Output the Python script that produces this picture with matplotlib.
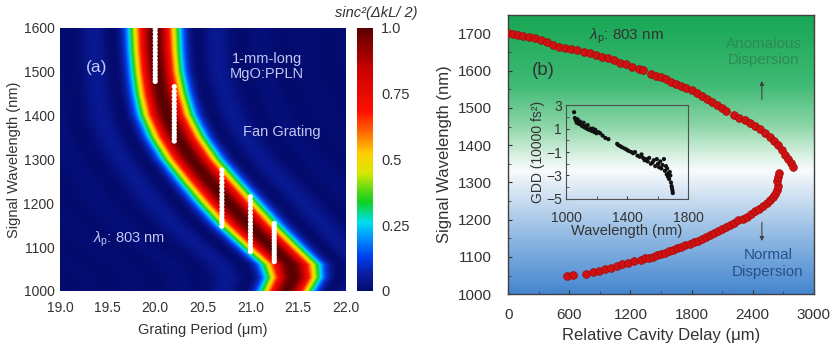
import numpy as np
import matplotlib.pyplot as plt
from matplotlib.colors import LinearSegmentedColormap

plt.rcParams['font.family'] = ['Liberation Sans', 'DejaVu Sans']
plt.rcParams['mathtext.fontset'] = 'custom'
plt.rcParams['mathtext.rm'] = 'Liberation Sans'
plt.rcParams['mathtext.it'] = 'Liberation Sans:italic'

# --- (a) phase-matching map: band centre and half-width ---
band_wl = [1000, 1030, 1060, 1100, 1150, 1200, 1250, 1300, 1350, 1400, 1450, 1500, 1550, 1600]
band_period = [21.38, 21.45, 21.42, 21.22, 20.98, 20.77, 20.57, 20.38, 20.23, 20.12, 20.06, 20.02, 20.00, 19.99]
band_halfwidth = [0.28, 0.29, 0.31, 0.32, 0.33, 0.33, 0.32, 0.31, 0.30, 0.29, 0.28, 0.27, 0.27, 0.27]

# measured signal wavelengths (white dots) for each grating period
meas_periods = [20.0, 20.2, 20.7, 21.0, 21.25]
meas_wl = [
    [1478, 1485, 1493, 1500, 1508, 1516, 1523, 1531, 1540, 1548, 1556, 1565, 1573, 1581, 1590, 1598],
    [1342, 1350, 1357, 1364, 1372, 1380, 1388, 1395, 1403, 1411, 1420, 1428, 1437, 1446, 1455, 1466],
    [1148, 1156, 1163, 1171, 1179, 1187, 1196, 1204, 1212, 1220, 1229, 1238, 1247, 1256, 1266, 1276],
    [1090, 1097, 1105, 1113, 1121, 1129, 1137, 1145, 1153, 1162, 1170, 1179, 1188, 1197, 1206, 1215],
    [1067, 1073, 1079, 1086, 1092, 1099, 1106, 1113, 1120, 1127, 1134, 1141, 1148, 1154],
]

# --- (b) signal wavelength vs relative cavity delay ---
upper_delay = [0, 50, 100, 150, 200, 260, 320, 380, 440, 500, 560, 620, 680, 740, 800, 860,
               920, 980, 1040, 1100, 1160, 1220, 1280, 1320, 1400, 1450, 1500, 1550, 1600,
               1650, 1700, 1750, 1800, 1850, 1900, 1950, 2000, 2050, 2100, 2140, 2220, 2270,
               2320, 2370, 2420, 2470, 2520, 2570, 2610, 2650, 2690, 2720, 2750, 2780, 2800]
upper_wl = [1700, 1698, 1696, 1694, 1691, 1687, 1682, 1677, 1670, 1665, 1661, 1658, 1655, 1651,
            1647, 1643, 1638, 1633, 1628, 1622, 1617, 1611, 1605, 1601, 1592, 1587, 1582, 1577,
            1571, 1565, 1559, 1553, 1547, 1540, 1532, 1524, 1516, 1508, 1499, 1493, 1481, 1474,
            1467, 1460, 1452, 1444, 1434, 1423, 1412, 1400, 1386, 1375, 1363, 1351, 1342]
lower_delay = [575, 640, 760, 830, 890, 950, 1010, 1070, 1120, 1180, 1240, 1300, 1340, 1380,
               1420, 1460, 1500, 1540, 1580, 1620, 1660, 1700, 1740, 1780, 1820, 1860, 1900,
               1940, 1980, 2020, 2060, 2100, 2140, 2180, 2220, 2260, 2300, 2340, 2380, 2420,
               2460, 2500, 2540, 2570, 2600, 2620, 2635, 2648, 2640, 2648, 2660]
lower_wl = [1050, 1051, 1055, 1060, 1063, 1067, 1071, 1076, 1080, 1085, 1089, 1093, 1096, 1098,
            1101, 1105, 1108, 1111, 1115, 1119, 1123, 1127, 1131, 1135, 1139, 1144, 1149,
            1154, 1159, 1165, 1170, 1175, 1181, 1187, 1192, 1198, 1203, 1208, 1215, 1222,
            1229, 1236, 1244, 1252, 1262, 1270, 1279, 1290, 1305, 1315, 1325]

# inset: GDD vs wavelength
gdd_wl = [1053, 1058, 1064, 1070, 1075, 1085, 1092, 1100, 1107, 1115, 1122, 1128, 1135, 1142,
          1150, 1160, 1168, 1176, 1185, 1192, 1200, 1212, 1224, 1240, 1258, 1278, 1335, 1342,
          1355, 1368, 1385, 1398, 1410, 1428, 1440, 1452, 1468, 1482, 1495, 1505, 1515, 1524,
          1535, 1545, 1556, 1567, 1575, 1585, 1595, 1603, 1610, 1618, 1625, 1632, 1642, 1648,
          1655, 1660, 1663, 1668, 1672, 1676, 1680, 1684, 1688, 1692, 1695, 1698, 1700]
gdd = [2.4, 1.9, 1.7, 1.5, 1.8, 1.4, 1.6, 1.3, 1.2, 1.5, 1.1, 1.2, 1.0, 1.3, 0.9, 1.0, 0.8,
       1.0, 0.7, 0.9, 0.6, 0.7, 0.6, 0.4, 0.2, 0.1, -0.3, -0.4, -0.5, -0.6, -0.7, -0.8, -0.9,
       -1.0, -1.1, -1.0, -1.3, -1.4, -1.2, -1.5, -1.7, -1.6, -1.8, -1.5, -2.0, -1.9, -1.7,
       -2.2, -1.6, -2.0, -2.3, -1.8, -2.4, -2.1, -1.6, -2.6, -2.2, -2.9, -2.4, -3.1, -2.8,
       -3.3, -2.7, -3.0, -3.6, -3.9, -4.1, -4.3, -4.5]

text_color = '#333333'
fig = plt.figure(figsize=(8.33, 3.54), dpi=100)

# ---------------- panel (a) ----------------
ax1 = fig.add_axes([0.072, 0.178, 0.343, 0.743])
cax = fig.add_axes([0.4286, 0.178, 0.0192, 0.743])

cmap_a = LinearSegmentedColormap.from_list('pm', [
    (0.0, '#040b6e'), (0.06, '#0a1d9c'), (0.13, '#0040f0'), (0.2, '#0090ff'),
    (0.26, '#00e0f0'), (0.34, '#10d020'), (0.45, '#d8e800'), (0.52, '#ffd000'),
    (0.6, '#ff7000'), (0.68, '#ff1000'), (0.85, '#c80000'), (1.0, '#5a0000')])

periods = np.linspace(19.0, 22.0, 600)
wls = np.linspace(1000, 1600, 400)
P, W = np.meshgrid(periods, wls)
centre = np.interp(W, band_wl, band_period)
halfw = np.interp(W, band_wl, band_halfwidth)
field = np.sinc(0.6 * (P - centre) / halfw) ** 2

im = ax1.imshow(field, extent=[19.0, 22.0, 1000, 1600], origin='lower', aspect='auto',
                cmap=cmap_a, vmin=0, vmax=1, interpolation='bilinear')

for p, wl in zip(meas_periods, meas_wl):
    ax1.scatter([p] * len(wl), wl, s=14, color='white', edgecolors='none', zorder=3)

ax1.set_xlim(19.0, 22.0)
ax1.set_ylim(1000, 1600)
ax1.set_xticks(np.arange(19.0, 22.01, 0.5))
ax1.set_xticklabels([f'{v:.1f}' for v in np.arange(19.0, 22.01, 0.5)])
ax1.set_yticks(range(1000, 1601, 100))
ax1.tick_params(length=0, labelsize=10, colors=text_color)
ax1.tick_params(axis='x', pad=7)
ax1.tick_params(axis='y', pad=4)
for s in ax1.spines.values():
    s.set_visible(False)
ax1.set_xlabel('Grating Period (\u03bcm)', fontsize=10.5, color=text_color, labelpad=6)
ax1.set_ylabel('Signal Wavelength (nm)', fontsize=10.5, color=text_color, labelpad=2)

lab = '#c3c8f2'
ax1.text(19.38, 1510, '(a)', color=lab, fontsize=12.5, ha='center', va='center')
ax1.text(21.17, 1512, '1-mm-long\nMgO:PPLN', color=lab, fontsize=10.5, ha='center',
         va='center', linespacing=1.15)
ax1.text(21.33, 1362, 'Fan Grating', color=lab, fontsize=10.5, ha='center', va='center')
ax1.text(19.35, 1118, r'$\lambda_\mathregular{p}$: 803 nm', color=lab, fontsize=10.5,
         ha='left', va='center')

cb = fig.colorbar(im, cax=cax)
cb.set_ticks([0, 0.25, 0.5, 0.75, 1.0])
cb.set_ticklabels(['0', '0.25', '0.5', '0.75', '1.0'])
cb.ax.tick_params(length=0, labelsize=10.5, colors=text_color, pad=6)
cb.outline.set_visible(False)
fig.text(0.452, 0.962, 'sinc\u00b2(\u0394kL/ 2)', fontsize=10.5, style='italic',
         color=text_color, ha='center', va='center')

# ---------------- panel (b) ----------------
ax2 = fig.add_axes([0.610, 0.169, 0.367, 0.789])
cmap_bg = LinearSegmentedColormap.from_list('bg', [
    (0.0, '#16a653'), (0.25, '#3fba74'), (0.4, '#8cd6a8'), (0.5, '#d6f0e0'),
    (0.56, '#f8fbfc'), (0.64, '#d4e4f3'), (0.8, '#8fb8e3'), (1.0, '#4586cf')])
grad = np.linspace(0, 1, 256).reshape(-1, 1)
ax2.imshow(grad, extent=[0, 3000, 1000, 1750], origin='upper', aspect='auto',
           cmap=cmap_bg, zorder=0)

ax2.scatter(upper_delay, upper_wl, s=32, color='#cc1212', edgecolors='#a00000',
            linewidths=0.4, zorder=3)
ax2.scatter(lower_delay, lower_wl, s=32, color='#cc1212', edgecolors='#a00000',
            linewidths=0.4, zorder=3)

ax2.set_xlim(0, 3000)
ax2.set_ylim(1000, 1750)
ax2.set_xticks(range(0, 3001, 600))
ax2.set_xticks(range(0, 3001, 300), minor=True)
ax2.set_yticks(range(1000, 1701, 100))
ax2.set_yticks(range(1000, 1751, 50), minor=True)
ax2.tick_params(which='both', direction='in', color='#404040', top=False, right=False)
ax2.tick_params(which='major', length=3, labelsize=11, colors=text_color)
ax2.tick_params(axis='x', which='major', pad=10)
ax2.tick_params(axis='y', which='major', pad=12)
ax2.tick_params(which='minor', length=2)
for s in ax2.spines.values():
    s.set_color('#404040')
    s.set_linewidth(1.0)
ax2.set_xlabel('Relative Cavity Delay (\u03bcm)', fontsize=12, color=text_color, labelpad=4)
ax2.set_ylabel('Signal Wavelength (nm)', fontsize=12, color=text_color, labelpad=4)

ax2.text(790, 1691, r'$\lambda_\mathregular{p}$: 803 nm', fontsize=11, color=text_color,
         ha='left', va='center')
ax2.text(343, 1600, '(b)', fontsize=13.5, color=text_color, ha='center', va='center')
ax2.text(2510, 1650, 'Anomalous\nDispersion', fontsize=11, color='#2f8a55', ha='center',
         va='center', linespacing=1.25)
ax2.annotate('', xy=(2490, 1580), xytext=(2490, 1515),
             arrowprops=dict(arrowstyle='-|>', color='#404040', lw=0.8, mutation_scale=6))
ax2.text(2550, 1082, 'Normal\nDispersion', fontsize=11, color='#27518c', ha='center',
         va='center', linespacing=1.25)
ax2.annotate('', xy=(2490, 1135), xytext=(2490, 1200),
             arrowprops=dict(arrowstyle='-|>', color='#404040', lw=0.8, mutation_scale=6))

# inset
axi = fig.add_axes([0.6795, 0.438, 0.1465, 0.265])
axi.patch.set_alpha(0)
axi.scatter(gdd_wl, gdd, s=9, color='#111111', edgecolors='none')
axi.set_xlim(1000, 1800)
axi.set_ylim(-5, 3)
axi.set_xticks([1000, 1400, 1800])
axi.set_xticks([1200, 1600], minor=True)
axi.set_yticks([3, 1, -1, -3, -5])
axi.set_yticks([2, 0, -2, -4], minor=True)
axi.tick_params(which='both', direction='in', length=2, color='#404040')
axi.tick_params(labelsize=10, colors=text_color)
axi.tick_params(axis='x', pad=9)
axi.tick_params(axis='y', pad=3)
for s in axi.spines.values():
    s.set_color('#505050')
    s.set_linewidth(0.8)
axi.set_xlabel('Wavelength (nm)', fontsize=10.5, color=text_color, labelpad=-1)
axi.set_ylabel('GDD (10000 fs\u00b2)', fontsize=10, color=text_color, labelpad=1)

fig.savefig('out.png', dpi=100)
